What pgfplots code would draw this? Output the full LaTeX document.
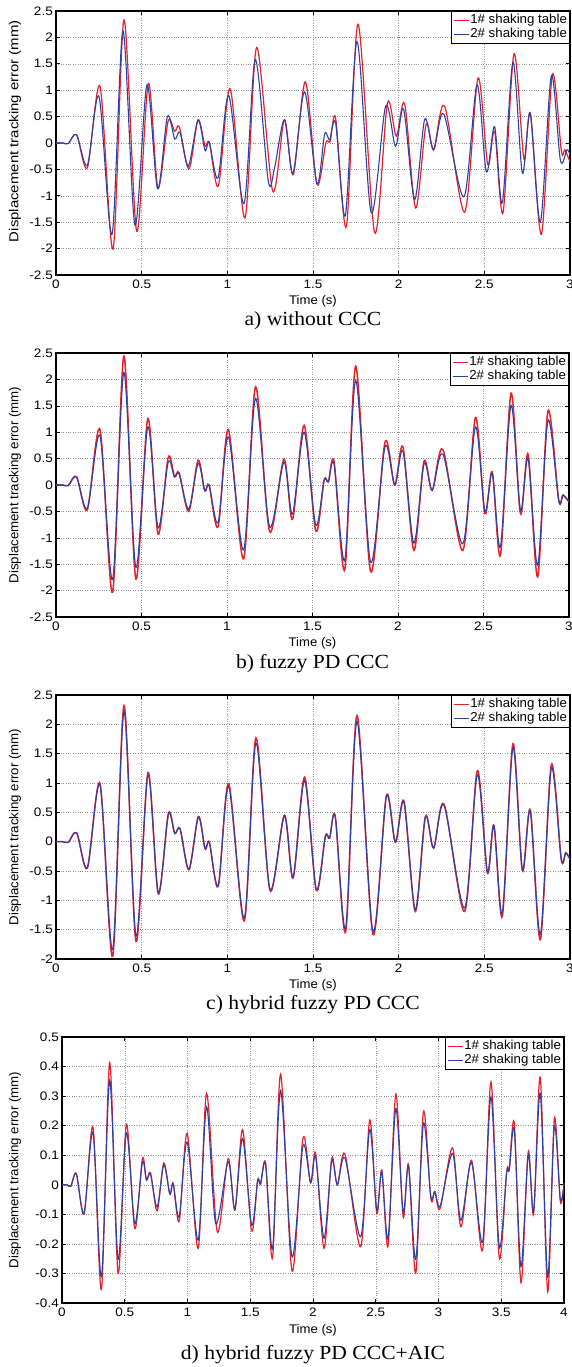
\documentclass[border=0pt]{standalone}
\usepackage{fontspec}
\usepackage{pgfplots}
\pgfplotsset{compat=1.18}
\setmainfont{Liberation Sans}
\newfontfamily\tickfont[FakeStretch=1.1]{Liberation Sans}
\newfontfamily\labfont[FakeStretch=1.05]{Liberation Sans}
\newfontfamily\ylabfont[FakeStretch=1.02]{Liberation Sans}
\newfontfamily\ylabfontA[FakeStretch=1.15]{Liberation Sans}
\newfontfamily\legfont[FakeStretch=1.02]{Liberation Sans}
\newfontfamily\capfont[FakeStretch=1.08]{Liberation Serif}
\definecolor{redA}{RGB}{232,32,40}
\definecolor{blueB}{RGB}{45,65,165}
\pgfplotsset{
  panel/.style={
    scale only axis,
    anchor=north west,
    axis line style={line width=1.3pt},
    tick pos=both, tick align=inside,
    major tick length=4pt,
    every tick/.style={black, line width=0.6pt},
    grid=major,
    grid style={dotted, gray!85, line width=0.5pt},
    /pgf/number format/assume math mode=true,
    tick label style={font=\tickfont\fontsize{12.3}{13}\selectfont},
    xticklabel style={anchor=north, inner sep=0pt, yshift=-4.5pt},
    yticklabel style={anchor=east, inner sep=0pt, xshift=-3pt},
    every axis x label/.style={at={(axis description cs:0.5,-0.0985)}, anchor=center, font=\labfont\fontsize{12.5}{13}\selectfont},
    every axis title/.style={at={(axis description cs:0.5,-0.172)}, anchor=center, font=\capfont\fontsize{20}{22}\selectfont},
    xlabel={Time (s)},
    ylabel={Displacement tracking error (mm)},
    legend style={at={(1,1)}, anchor=north east, draw=black, line width=1.2pt,
      font=\legfont\fontsize{13}{14}\selectfont, inner sep=2pt, row sep=0.8pt,
      nodes={inner sep=0.5pt, text height=9.5pt, text depth=3pt}},
    legend cell align=left,
    legend image code/.code={\draw[#1] (0pt,0pt) -- (15pt,0pt);},
  },
  ser1/.style={redA, line width=1.2pt, smooth},
  ser2/.style={blueB, line width=1.1pt, smooth},
}
\begin{document}
\begin{tikzpicture}
\useasboundingbox (0pt,0pt) rectangle (572pt,-1367pt);
% ---------------- a) ----------------
\begin{axis}[panel, at={(56pt,-11pt)}, width=514pt, height=264pt,
  xmin=0, xmax=3, ymin=-2.5, ymax=2.5,
  xtick={0,0.5,1,1.5,2,2.5,3}, ytick={-2.5,-2,-1.5,-1,-0.5,0,0.5,1,1.5,2,2.5},
  every axis y label/.style={at={(axis description cs:-0.0798,0.545)}, rotate=90, anchor=center, font=\ylabfontA\fontsize{13}{14}\selectfont},
  title={a) without CCC}]
\addplot[ser1] coordinates {(0,0)(0.04,0)(0.072,-0.01)(0.12,0.157)(0.183,-0.47)(0.257,1.07)(0.333,-2.01)(0.397,2.33)(0.471,-1.67)(0.539,1.13)(0.595,-0.85)(0.654,0.41)(0.693,0.22)(0.72,0.30)(0.776,-0.49)(0.829,0.44)(0.87,-0.06)(0.895,0.01)(0.948,-0.81)(1.016,1.03)(1.103,-1.42)(1.171,1.81)(1.265,-0.91)(1.333,0.44)(1.385,-0.60)(1.455,1.16)(1.523,-0.78)(1.575,0.0)(1.60,0.03)(1.632,0.47)(1.695,-1.58)(1.763,2.25)(1.86,-1.70)(1.934,0.75)(1.986,0.13)(2.035,0.74)(2.099,-1.23)(2.16,0.35)(2.204,-0.13)(2.268,0.70)(2.385,-1.31)(2.463,1.23)(2.52,-0.41)(2.56,0.22)(2.609,-1.32)(2.673,1.69)(2.731,-0.30)(2.768,0.55)(2.833,-1.73)(2.897,1.29)(2.95,-0.16)(2.97,-0.13)(3.0,-0.36)};
\addplot[ser2] coordinates {(0,0)(0.04,0)(0.072,-0.01)(0.12,0.157)(0.183,-0.42)(0.251,0.88)(0.327,-1.73)(0.391,2.12)(0.461,-1.56)(0.531,1.10)(0.593,-0.87)(0.65,0.50)(0.693,0.075)(0.724,0.2)(0.772,-0.44)(0.829,0.43)(0.87,-0.14)(0.895,0.01)(0.946,-0.66)(1.008,0.90)(1.097,-1.15)(1.163,1.58)(1.239,-0.72)(1.275,-0.48)(1.333,0.44)(1.383,-0.58)(1.451,0.97)(1.523,-0.77)(1.568,0.17)(1.597,0.06)(1.632,0.38)(1.689,-1.37)(1.757,1.92)(1.84,-1.32)(1.924,0.70)(1.982,-0.06)(2.029,0.64)(2.093,-1.07)(2.152,0.45)(2.204,-0.13)(2.263,0.55)(2.381,-1.02)(2.457,1.10)(2.512,-0.55)(2.56,0.31)(2.605,-1.13)(2.667,1.53)(2.722,-0.57)(2.768,0.57)(2.827,-1.50)(2.891,1.27)(2.944,-0.33)(2.982,-0.13)(3.0,-0.22)};
\legend{1\# shaking table, 2\# shaking table}
\end{axis}
% ---------------- b) ----------------
\begin{axis}[panel, at={(56pt,-353pt)}, width=513pt, height=264pt,
  xmin=0, xmax=3, ymin=-2.5, ymax=2.5,
  xtick={0,0.5,1,1.5,2,2.5,3}, ytick={-2.5,-2,-1.5,-1,-0.5,0,0.5,1,1.5,2,2.5},
  every axis y label/.style={at={(axis description cs:-0.0798,0.5)}, rotate=90, anchor=center, font=\ylabfont\fontsize{13}{14}\selectfont},
  every axis title/.style={at={(axis description cs:0.5,-0.178)}, anchor=center, font=\capfont\fontsize{20}{22}\selectfont},
  title={b) fuzzy PD CCC}]
\addplot[ser1, line width=1.5pt] coordinates {(0,0)(0.04,0)(0.072,-0.01)(0.12,0.16)(0.183,-0.47)(0.257,1.05)(0.331,-2.03)(0.397,2.44)(0.467,-1.78)(0.537,1.26)(0.597,-0.93)(0.656,0.52)(0.693,0.16)(0.72,0.23)(0.776,-0.50)(0.831,0.47)(0.87,-0.11)(0.895,0.0)(0.948,-0.79)(1.008,1.05)(1.097,-1.40)(1.167,1.86)(1.249,-0.88)(1.333,0.49)(1.383,-0.65)(1.451,1.13)(1.519,-0.87)(1.568,0.09)(1.593,0.06)(1.626,0.44)(1.689,-1.60)(1.753,2.25)(1.84,-1.64)(1.924,0.81)(1.981,0.0)(2.029,0.72)(2.093,-1.24)(2.152,0.45)(2.2,-0.10)(2.263,0.67)(2.379,-1.24)(2.453,1.28)(2.508,-0.54)(2.551,0.25)(2.599,-1.33)(2.661,1.74)(2.716,-0.54)(2.761,0.58)(2.817,-1.74)(2.877,1.40)(2.94,-0.29)(2.965,-0.19)(3.0,-0.32)};
\addplot[ser2] coordinates {(0,0)(0.04,0)(0.072,-0.01)(0.12,0.15)(0.183,-0.44)(0.257,0.93)(0.331,-1.79)(0.397,2.13)(0.467,-1.56)(0.537,1.10)(0.597,-0.81)(0.656,0.43)(0.693,0.15)(0.72,0.21)(0.776,-0.46)(0.831,0.41)(0.87,-0.11)(0.895,0.0)(0.948,-0.71)(1.008,0.91)(1.097,-1.23)(1.167,1.64)(1.249,-0.79)(1.333,0.43)(1.383,-0.55)(1.451,1.0)(1.519,-0.76)(1.568,0.09)(1.593,0.06)(1.626,0.40)(1.689,-1.42)(1.753,1.98)(1.84,-1.46)(1.924,0.72)(1.981,0.0)(2.029,0.64)(2.093,-1.10)(2.152,0.40)(2.2,-0.10)(2.263,0.58)(2.379,-1.11)(2.453,1.10)(2.508,-0.50)(2.551,0.22)(2.599,-1.17)(2.661,1.51)(2.716,-0.48)(2.761,0.50)(2.817,-1.52)(2.877,1.22)(2.94,-0.29)(2.965,-0.19)(3.0,-0.32)};
\legend{1\# shaking table, 2\# shaking table}
\end{axis}
% ---------------- c) ----------------
\begin{axis}[panel, at={(56pt,-695pt)}, width=514pt, height=264pt,
  xmin=0, xmax=3, ymin=-2, ymax=2.5,
  xtick={0,0.5,1,1.5,2,2.5,3}, ytick={-2,-1.5,-1,-0.5,0,0.5,1,1.5,2,2.5},
  every axis y label/.style={at={(axis description cs:-0.0798,0.5)}, rotate=90, anchor=center, font=\ylabfont\fontsize{13}{14}\selectfont},
  title={c) hybrid fuzzy PD CCC}]
\addplot[ser1, line width=1.5pt] coordinates {(0,0)(0.04,0)(0.072,-0.01)(0.121,0.15)(0.183,-0.45)(0.257,0.99)(0.331,-1.95)(0.397,2.32)(0.467,-1.70)(0.537,1.18)(0.597,-0.89)(0.656,0.48)(0.693,0.14)(0.724,0.22)(0.776,-0.48)(0.831,0.43)(0.870,-0.12)(0.895,-0.01)(0.947,-0.76)(1.008,0.99)(1.099,-1.35)(1.167,1.77)(1.249,-0.83)(1.333,0.45)(1.384,-0.62)(1.451,1.10)(1.519,-0.83)(1.572,0.09)(1.597,0.06)(1.630,0.43)(1.691,-1.53)(1.757,2.15)(1.850,-1.58)(1.928,0.78)(1.981,-0.01)(2.031,0.69)(2.097,-1.19)(2.156,0.43)(2.204,-0.11)(2.265,0.64)(2.385,-1.19)(2.459,1.21)(2.518,-0.53)(2.556,0.28)(2.605,-1.27)(2.667,1.67)(2.722,-0.49)(2.768,0.54)(2.827,-1.67)(2.891,1.31)(2.949,-0.30)(2.975,-0.19)(3.0,-0.30)};
\addplot[ser2] coordinates {(0,0)(0.04,0)(0.072,-0.01)(0.121,0.15)(0.183,-0.44)(0.257,0.96)(0.331,-1.84)(0.397,2.22)(0.467,-1.61)(0.537,1.14)(0.597,-0.87)(0.656,0.47)(0.693,0.14)(0.724,0.22)(0.776,-0.47)(0.831,0.42)(0.870,-0.12)(0.895,-0.01)(0.947,-0.74)(1.008,0.94)(1.099,-1.30)(1.167,1.68)(1.249,-0.81)(1.333,0.44)(1.384,-0.60)(1.451,1.04)(1.519,-0.81)(1.572,0.09)(1.597,0.06)(1.630,0.42)(1.691,-1.47)(1.757,2.05)(1.850,-1.53)(1.928,0.76)(1.981,-0.01)(2.031,0.67)(2.097,-1.16)(2.156,0.42)(2.204,-0.11)(2.265,0.62)(2.385,-1.13)(2.459,1.14)(2.518,-0.52)(2.556,0.27)(2.605,-1.22)(2.667,1.60)(2.722,-0.48)(2.768,0.52)(2.827,-1.58)(2.891,1.25)(2.949,-0.30)(2.975,-0.19)(3.0,-0.30)};
\legend{1\# shaking table, 2\# shaking table}
\end{axis}
% ---------------- d) ----------------
\begin{axis}[panel, at={(62pt,-1037pt)}, width=502pt, height=266pt,
  xmin=0, xmax=4, ymin=-0.4, ymax=0.5,
  xtick={0,0.5,1,1.5,2,2.5,3,3.5,4}, ytick={-0.4,-0.3,-0.2,-0.1,0,0.1,0.2,0.3,0.4,0.5},
  every axis y label/.style={at={(axis description cs:-0.0936,0.5)}, rotate=90, anchor=center, font=\ylabfont\fontsize{13}{14}\selectfont},
  every axis x label/.style={at={(axis description cs:0.5,-0.1015)}, anchor=center, font=\labfont\fontsize{12.5}{13}\selectfont},
  every axis title/.style={at={(axis description cs:0.5,-0.195)}, anchor=center, font=\capfont\fontsize{20}{22}\selectfont},
  title={d) hybrid fuzzy PD CCC+AIC}]
\addplot[ser1] coordinates {(0,0)(0.04,0)(0.07,-0.005)(0.114,0.038)(0.176,-0.099)(0.247,0.194)(0.314,-0.354)(0.380,0.413)(0.447,-0.300)(0.513,0.205)(0.580,-0.148)(0.641,0.089)(0.673,0.016)(0.705,0.041)(0.758,-0.088)(0.811,0.074)(0.859,-0.032)(0.886,0.005)(0.934,-0.123)(0.997,0.174)(1.085,-0.215)(1.152,0.309)(1.237,-0.159)(1.324,0.089)(1.378,-0.086)(1.439,0.187)(1.511,-0.156)(1.559,0.016)(1.582,0.002)(1.622,0.074)(1.678,-0.246)(1.742,0.374)(1.833,-0.292)(1.920,0.157)(1.981,0.007)(2.021,0.106)(2.088,-0.215)(2.149,0.089)(2.194,0.0)(2.255,0.103)(2.380,-0.210)(2.452,0.219)(2.508,-0.097)(2.548,0.050)(2.598,-0.207)(2.660,0.307)(2.718,-0.108)(2.761,0.069)(2.819,-0.300)(2.880,0.247)(2.939,-0.046)(2.971,-0.024)(3.013,-0.080)(3.112,0.125)(3.178,-0.142)(3.263,0.083)(3.351,-0.221)(3.418,0.348)(3.484,-0.247)(3.543,0.044)(3.564,0.055)(3.604,0.207)(3.657,-0.331)(3.715,0.112)(3.758,-0.099)(3.811,0.363)(3.870,-0.362)(3.923,0.224)(3.971,-0.057)(4.0,0.005)};
\addplot[ser2] coordinates {(0,0)(0.04,0)(0.07,-0.005)(0.114,0.036)(0.176,-0.095)(0.247,0.176)(0.314,-0.311)(0.380,0.354)(0.447,-0.253)(0.513,0.176)(0.580,-0.131)(0.641,0.076)(0.673,0.016)(0.705,0.036)(0.758,-0.075)(0.811,0.068)(0.859,-0.030)(0.886,0.003)(0.934,-0.108)(0.997,0.145)(1.085,-0.187)(1.152,0.264)(1.225,-0.131)(1.324,0.078)(1.378,-0.082)(1.439,0.157)(1.511,-0.136)(1.559,0.014)(1.582,0.002)(1.622,0.070)(1.678,-0.215)(1.742,0.318)(1.833,-0.244)(1.920,0.131)(1.981,0.007)(2.021,0.095)(2.088,-0.181)(2.149,0.080)(2.194,0.0)(2.255,0.090)(2.380,-0.176)(2.452,0.187)(2.508,-0.086)(2.548,0.045)(2.598,-0.181)(2.660,0.258)(2.718,-0.091)(2.761,0.062)(2.819,-0.253)(2.880,0.207)(2.939,-0.040)(2.971,-0.022)(3.013,-0.072)(3.112,0.106)(3.178,-0.120)(3.263,0.075)(3.351,-0.193)(3.418,0.298)(3.484,-0.210)(3.543,0.040)(3.564,0.050)(3.604,0.185)(3.657,-0.277)(3.715,0.100)(3.758,-0.090)(3.811,0.309)(3.870,-0.311)(3.923,0.196)(3.971,-0.050)(4.0,0.005)};
\legend{1\# shaking table, 2\# shaking table}
\end{axis}
\end{tikzpicture}
\end{document}
